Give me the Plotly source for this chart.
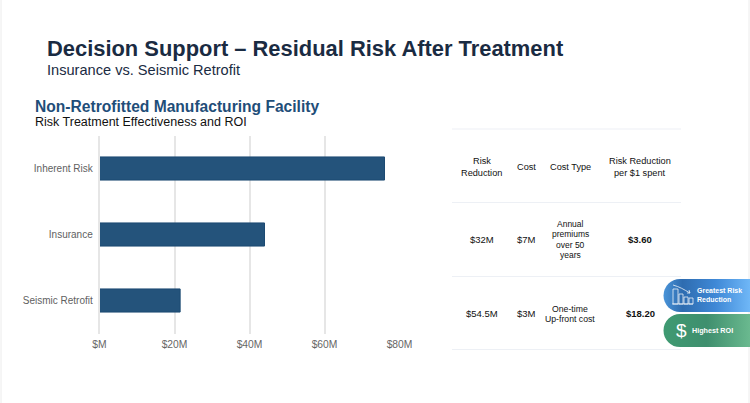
import base64
import plotly.graph_objects as go

categories = ["Inherent Risk", "Insurance", "Seismic Retrofit"]
values = [76, 44, 21.5]
tick_vals = [0, 20, 40, 60, 80]
tick_labels = ["$M", "$20M", "$40M", "$60M", "$80M"]
table_header = [["Risk", "Reduction"], ["Cost"], ["Cost Type"], ["Risk Reduction", "per $1 spent"]]
table_row1 = [["$32M"], ["$7M"], ["Annual", "premiums", "over 50", "years"], ["<b>$3.60</b>"]]
table_row2 = [["$54.5M"], ["$3M"], ["One-time", "Up-front cost"], ["<b>$18.20</b>"]]

W, H = 750, 403
FONT = "Liberation Sans, Arial, sans-serif"


def px(x):
    return x / W


def py(y):
    return 1 - y / H


fig = go.Figure(go.Bar(
    y=categories, x=values, orientation="h",
    marker=dict(color="#24537b", line=dict(color="#1c4a72", width=1)),
    width=0.35, hoverinfo="skip",
))
fig.update_layout(
    width=W, height=H, margin=dict(l=0, r=0, t=0, b=0, autoexpand=False),
    paper_bgcolor="white", plot_bgcolor="white", showlegend=False,
    font=dict(family=FONT),
    bargap=0.65,
    xaxis=dict(domain=[px(99.5), px(399.5)], range=[0, 80], tickvals=tick_vals, ticktext=tick_labels,
               showgrid=True, gridcolor="#e6e6e6", gridwidth=1.5, zeroline=False, showline=False,
               ticks="", tickfont=dict(size=10.3, color="#666666"), ticklabelstandoff=3),
    yaxis=dict(domain=[py(333.5), py(135.5)], autorange="reversed", showgrid=False, zeroline=False,
               showline=True, linecolor="#e6e6e6", linewidth=1.5,
               ticks="", tickfont=dict(size=10, color="#5f5f5f"), ticklabelstandoff=3),
)


def text(x, y, s, size, color="#111111", anchor="center"):
    fig.add_annotation(xref="paper", yref="paper", x=px(x), y=py(y), text=s, showarrow=False,
                       xanchor=anchor, yanchor="middle", align="center" if anchor == "center" else anchor,
                       font=dict(size=size, color=color, family=FONT))


def cell(x, yc, lines, size, spacing):
    top = yc - spacing * (len(lines) - 1) / 2
    for i, line in enumerate(lines):
        text(x, top + i * spacing, line, size)


text(45, 48.5, "<b>Decision Support – Residual Risk After Treatment</b>", 21.9, "#1a2b42", "left")
text(45, 70, "Insurance vs. Seismic Retrofit", 14.6, "#1a2b42", "left")
text(33, 106, "<b>Non-Retrofitted Manufacturing Facility</b>", 15.6, "#1f4e79", "left")
text(33, 121.5, "Risk Treatment Effectiveness and ROI", 12.5, "#111111", "left")

col_x = [481.7, 526.7, 570, 640]
for x, h, a, b in zip(col_x, table_header, table_row1, table_row2):
    cell(x, 167, h, 9.2, 11)
    cell(x, 239.5, a, 9.5 if len(a) == 1 else 8.5, 10.3)
    cell(x, 313.5, b, 9.5 if len(b) == 1 else 8.7, 10)

for y in [129, 202.5, 276.5, 349.5]:
    fig.add_shape(type="line", xref="paper", yref="paper", x0=px(452), x1=px(681), y0=py(y), y1=py(y),
                  line=dict(color="#edf0f5", width=1.2), layer="below")

for x in [1, 749]:
    fig.add_shape(type="line", xref="paper", yref="paper", x0=px(x), x1=px(x), y0=0, y1=1,
                  line=dict(color="#ececec", width=1), layer="below")

svg = """<svg xmlns='http://www.w3.org/2000/svg' width='87' height='68' viewBox='0 0 87 68'>
<defs>
<linearGradient id='a' x1='0' x2='1' y1='0' y2='0'><stop offset='0' stop-color='#4a94d8'/><stop offset='0.22' stop-color='#2e6cb0'/><stop offset='0.6' stop-color='#3f88d6'/><stop offset='1' stop-color='#6fb7f7'/></linearGradient>
<linearGradient id='b' x1='0' x2='1' y1='0' y2='0'><stop offset='0' stop-color='#3f9a72'/><stop offset='0.5' stop-color='#3f8f6e'/><stop offset='1' stop-color='#6ab98f'/></linearGradient>
</defs>
<path d='M17 0H87V33H17A16.500 16.500 0 0 1 17 0Z' fill='url(#a)'/>
<path d='M17 35H87V68H17A16.500 16.500 0 0 1 17 35Z' fill='url(#b)'/>
<g fill='none' stroke='white' stroke-width='0.8' opacity='0.9'>
<path d='M10 6C17 8 20 10 27 14'/><path d='M24 14L27 14L26 11'/>
<path d='M10 10V25H15V10ZM16 15V25H20V15ZM21 18V25H25V18ZM26 19V25H30V19ZM9 25H30'/>
</g></svg>"""
uri = "data:image/svg+xml;base64," + base64.b64encode(svg.encode()).decode()
fig.add_layout_image(source=uri, xref="paper", yref="paper", x=px(663), y=py(279), sizex=px(87), sizey=68 / H,
                     xanchor="left", yanchor="top", sizing="stretch", layer="above")

text(695, 290, "<b>Greatest Risk</b>", 7, "white", "left")
text(695, 299.5, "<b>Reduction</b>", 7, "white", "left")
text(690, 330, "<b>Highest ROI</b>", 7.2, "white", "left")
text(681, 330, "$", 19, "white")

fig.write_html("out.html", config=dict(displayModeBar=False),
               post_script="document.body.style.margin='0';document.body.style.overflow='hidden';")
